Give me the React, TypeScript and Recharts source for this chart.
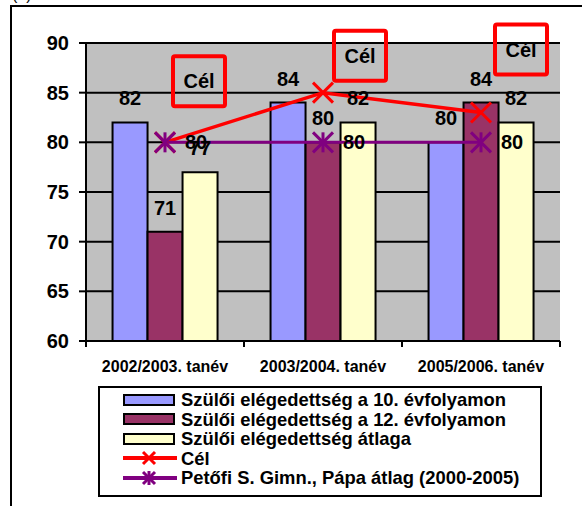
import {
  Bar,
  CartesianGrid,
  ComposedChart,
  LabelList,
  Legend,
  Line,
  XAxis,
  YAxis,
} from "recharts";

const categories = ["2002/2003. tanév", "2003/2004. tanév", "2005/2006. tanév"];
const grade10 = [82, 84, 80];
const grade12 = [71, 80, 84];
const parentAverage = [77, 82, 82];
const target = [80, 85, 83];
const schoolAverage = [80, 80, 80];
const yTicks = [60, 65, 70, 75, 80, 85, 90];
const seriesNames = [
  "Szülői elégedettség a 10. évfolyamon",
  "Szülői elégedettség a 12. évfolyamon",
  "Szülői elégedettség átlaga",
  "Cél",
  "Petőfi S. Gimn., Pápa átlag (2000-2005)",
];

const data = categories.map((name, i) => ({
  name,
  grade10: grade10[i],
  grade12: grade12[i],
  parentAverage: parentAverage[i],
  target: target[i],
  schoolAverage: schoolAverage[i],
}));

const FONT = "'Liberation Sans', Arial, sans-serif";
const BLUE = "#9999FF";
const MAROON = "#993366";
const CREAM = "#FFFFCC";
const RED = "#FF0000";
const PURPLE = "#800080";

// where each "Cél" callout box sits relative to its point
const calloutShift = [
  [34, -61],
  [37, -37],
  [40, -63],
];

const CategoryTick = (props: any) => {
  const { x, y, payload, index } = props;
  const half = payload.offset || 79;
  const axisY = y - 20;
  const last = index === categories.length - 1;
  return (
    <g>
      <line x1={x - half} x2={x - half} y1={axisY} y2={axisY + 6} stroke="#000" strokeWidth={2} />
      {last && <line x1={x + half} x2={x + half} y1={axisY} y2={axisY + 6} stroke="#000" strokeWidth={2} />}
      <text
        x={x}
        y={y}
        dy="0.71em"
        textAnchor="middle"
        fontFamily={FONT}
        fontSize={16}
        fontWeight="bold"
        fill="#000"
      >
        {payload.value}
      </text>
    </g>
  );
};

const renderCross = (p: any) => {
  if (p.cx == null || p.cy == null) return <g key={`c-${p.index}`} />;
  return (
    <g key={`c-${p.index}`}>
      <line x1={p.cx - 10} y1={p.cy - 10} x2={p.cx + 10} y2={p.cy + 10} stroke={RED} strokeWidth={3} />
      <line x1={p.cx + 10} y1={p.cy - 10} x2={p.cx - 10} y2={p.cy + 10} stroke={RED} strokeWidth={3} />
    </g>
  );
};

const renderAsterisk = (p: any) => {
  if (p.cx == null || p.cy == null) return <g key={`a-${p.index}`} />;
  return (
    <g key={`a-${p.index}`}>
      <line x1={p.cx - 10} y1={p.cy - 10} x2={p.cx + 10} y2={p.cy + 10} stroke={PURPLE} strokeWidth={3} />
      <line x1={p.cx + 10} y1={p.cy - 10} x2={p.cx - 10} y2={p.cy + 10} stroke={PURPLE} strokeWidth={3} />
      <line x1={p.cx} y1={p.cy - 10} x2={p.cx} y2={p.cy + 10} stroke={PURPLE} strokeWidth={3} />
    </g>
  );
};

const renderCallout = (props: any) => {
  const px = props.x ?? props.viewBox?.x;
  const py = props.y ?? props.viewBox?.y;
  const idx = props.index ?? 0;
  const [dx, dy] = calloutShift[idx] || [36, -50];
  const cx = px + dx;
  const cy = py + dy;
  return (
    <g key={`callout-${idx}`}>
      <rect x={cx - 26} y={cy - 25} width={52} height={50} rx={2} fill="none" stroke={RED} strokeWidth={4} />
      <text
        x={cx}
        y={cy + 7}
        textAnchor="middle"
        fontFamily={FONT}
        fontSize={20}
        fontWeight="bold"
        fill="#000"
      >
        {seriesNames[3]}
      </text>
    </g>
  );
};

const legendItems = [
  { name: seriesNames[0], kind: "bar", color: BLUE },
  { name: seriesNames[1], kind: "bar", color: MAROON },
  { name: seriesNames[2], kind: "bar", color: CREAM },
  { name: seriesNames[3], kind: "cross", color: RED },
  { name: seriesNames[4], kind: "asterisk", color: PURPLE },
];

const LegendBox = () => (
  <div
    style={{
      boxSizing: "border-box",
      width: 444,
      height: 111,
      border: "2px solid #000",
      background: "#fff",
      padding: "2px 0 0 23px",
      fontFamily: FONT,
      fontWeight: "bold",
      fontSize: 18.4,
      color: "#000",
    }}
  >
    {legendItems.map((item) => (
      <div key={item.name} style={{ display: "flex", alignItems: "center", height: 19.5, whiteSpace: "nowrap" }}>
        <svg width={58} height={16} style={{ flex: "none" }}>
          {item.kind === "bar" ? (
            <rect x={1} y={3} width={50} height={10} fill={item.color} stroke="#000" strokeWidth={2} />
          ) : (
            <g stroke={item.color}>
              <line x1={0} x2={54} y1={8} y2={8} strokeWidth={4} />
              <line x1={20} y1={2} x2={32} y2={14} strokeWidth={3} />
              <line x1={32} y1={2} x2={20} y2={14} strokeWidth={3} />
              {item.kind === "asterisk" && <line x1={26} y1={1} x2={26} y2={15} strokeWidth={3} />}
            </g>
          )}
        </svg>
        <span style={{ lineHeight: "19.5px" }}>{item.name}</span>
      </div>
    ))}
  </div>
);

const App = () => {
  return (
    <div style={{ position: "absolute", left: 0, top: 0, width: 582, height: 506, overflow: "hidden", background: "#fff" }}>
      <div
        style={{
          position: "absolute",
          left: 12,
          top: -14,
          fontFamily: FONT,
          fontSize: 16,
          color: "#000",
        }}
      >
        (b)
      </div>
      <div
        style={{
          position: "absolute",
          left: 10,
          top: 5,
          width: 700,
          height: 700,
          border: "2px solid #000",
        }}
      />
      <div style={{ position: "absolute", left: 0, top: 0 }}>
        <ComposedChart
          width={582}
          height={506}
          data={data}
          margin={{ top: 43, right: 22, left: 0, bottom: 135 }}
          barCategoryGap="16.8%"
          barGap={0}
        >
          <CartesianGrid
            vertical={false}
            fill="#C0C0C0"
            fillOpacity={1}
            stroke="#000"
            strokeWidth={2}
          />
          <XAxis
            dataKey="name"
            axisLine={{ stroke: "#000", strokeWidth: 2 }}
            tickLine={false}
            tickSize={6}
            tickMargin={14}
            height={30}
            interval={0}
            tick={<CategoryTick />}
          />
          <XAxis
            xAxisId="top"
            orientation="top"
            dataKey="name"
            height={0}
            tick={false}
            tickLine={false}
            axisLine={{ stroke: "#808080", strokeWidth: 2 }}
          />
          <YAxis
            domain={[60, 90]}
            ticks={yTicks}
            interval={0}
            width={86}
            tickSize={7}
            tickMargin={10}
            axisLine={{ stroke: "#000", strokeWidth: 2 }}
            tickLine={{ stroke: "#000", strokeWidth: 2 }}
            tick={{ fill: "#000", fontSize: 20, fontWeight: "bold", fontFamily: FONT }}
          />
          <YAxis
            yAxisId="right"
            orientation="right"
            domain={[60, 90]}
            width={0}
            tick={false}
            tickLine={false}
            axisLine={{ stroke: "#808080", strokeWidth: 2 }}
          />
          <Bar dataKey="grade10" name={seriesNames[0]} fill={BLUE} stroke="#000" strokeWidth={2} isAnimationActive={false}>
            <LabelList dataKey="grade10" position="top" offset={17} fill="#000" fontSize={20} fontWeight="bold" fontFamily={FONT} />
          </Bar>
          <Bar dataKey="grade12" name={seriesNames[1]} fill={MAROON} stroke="#000" strokeWidth={2} isAnimationActive={false}>
            <LabelList dataKey="grade12" position="top" offset={17} fill="#000" fontSize={20} fontWeight="bold" fontFamily={FONT} />
          </Bar>
          <Bar dataKey="parentAverage" name={seriesNames[2]} fill={CREAM} stroke="#000" strokeWidth={2} isAnimationActive={false}>
            <LabelList dataKey="parentAverage" position="top" offset={17} fill="#000" fontSize={20} fontWeight="bold" fontFamily={FONT} />
          </Bar>
          <Line
            dataKey="target"
            name={seriesNames[3]}
            type="linear"
            stroke={RED}
            strokeWidth={3.5}
            dot={renderCross}
            activeDot={false}
            isAnimationActive={false}
          >
            <LabelList dataKey="target" content={renderCallout} />
          </Line>
          <Line
            dataKey="schoolAverage"
            name={seriesNames[4]}
            type="linear"
            stroke={PURPLE}
            strokeWidth={3}
            dot={renderAsterisk}
            activeDot={false}
            isAnimationActive={false}
          >
            <LabelList dataKey="schoolAverage" position="right" offset={20} fill="#000" fontSize={20} fontWeight="bold" fontFamily={FONT} />
          </Line>
          <Legend
            layout="horizontal"
            verticalAlign="middle"
            align="center"
            wrapperStyle={{ position: "absolute", left: 98, top: 386, width: 444, height: 111 }}
            content={() => <LegendBox />}
          />
        </ComposedChart>
      </div>
    </div>
  );
};

export default App;
